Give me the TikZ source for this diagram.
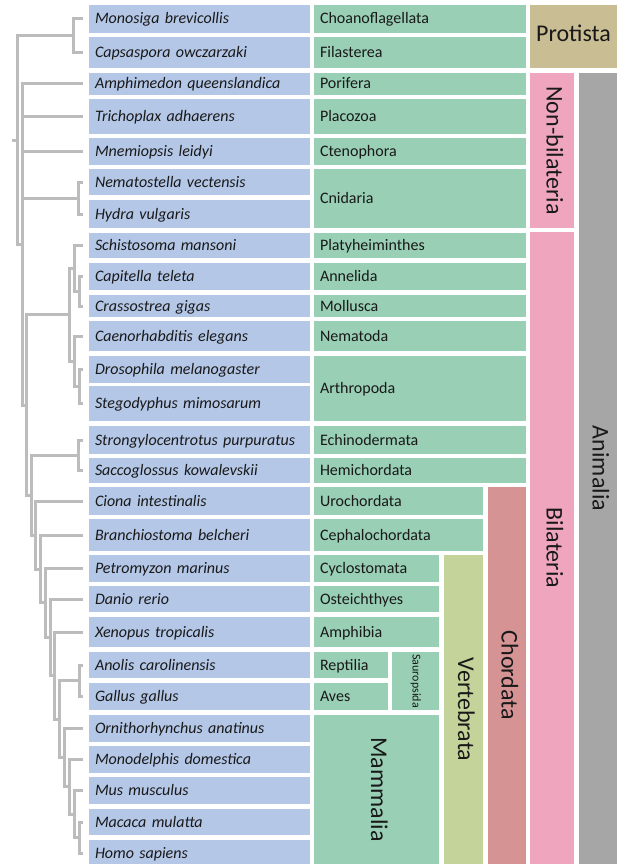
\documentclass[tikz,border=0pt]{standalone}
\usepackage{fontspec}
\setmainfont{Carlito}
\usetikzlibrary{positioning}
\definecolor{azulc}{RGB}{180,199,231}
\definecolor{verdec}{RGB}{152,207,181}
\definecolor{arena}{RGB}{201,189,148}
\definecolor{rosa}{RGB}{239,165,190}
\definecolor{grana}{RGB}{214,147,148}
\definecolor{oliva}{RGB}{195,211,153}
\definecolor{grism}{RGB}{166,166,166}
\definecolor{ramac}{RGB}{188,188,188}
\definecolor{tinta}{RGB}{25,25,25}
\tikzset{
  esp/.style={fill=azulc, anchor=west, inner xsep=6pt, inner ysep=0pt, outer xsep=6pt, outer ysep=0pt, text width=209pt, align=left, text height=13pt, text depth=3pt, font=\fontsize{16}{16}\selectfont\itshape, text=tinta},
  fil/.style={fill=verdec, anchor=west, inner xsep=6pt, inner ysep=0pt, outer sep=0pt, text width=200pt, align=left, text height=13pt, text depth=3pt, font=\fontsize{16}{16}\selectfont, text=tinta},
  grupo/.style={inner sep=0pt, outer sep=0pt, text height=16pt, text depth=5pt, font=\fontsize{24}{24}\selectfont, text=tinta},
  vert/.style={grupo, rotate=-90},
  rama/.style={draw=ramac, line width=3pt},
}
\begin{document}
\begin{tikzpicture}[x=1pt, y=-1pt]
  \useasboundingbox (0,0) rectangle (618,864);
  % species column
  \node[esp, minimum height=28pt] (s1) at (83,19) {Monosiga brevicollis};
  \node[esp, minimum height=31pt] (s2) at (83,52.5) {Capsaspora owczarzaki};
  \node[esp, minimum height=22pt] (s3) at (83,84) {Amphimedon queenslandica};
  \node[esp, minimum height=35pt] (s4) at (83,116.5) {Trichoplax adhaerens};
  \node[esp, minimum height=27pt] (s5) at (83,151.5) {Mnemiopsis leidyi};
  \node[esp, minimum height=26pt] (s6) at (83,182) {Nematostella vectensis};
  \node[esp, minimum height=28pt] (s7) at (83,214) {Hydra vulgaris};
  \node[esp, minimum height=25pt] (s8) at (83,245.5) {Schistosoma mansoni};
  \node[esp, minimum height=27pt] (s9) at (83,276.5) {Capitella teleta};
  \node[esp, minimum height=22pt] (s10) at (83,306) {Crassostrea gigas};
  \node[esp, minimum height=30pt] (s11) at (83,336) {Caenorhabditis elegans};
  \node[esp, minimum height=27pt] (s12) at (83,369.5) {Drosophila melanogaster};
  \node[esp, minimum height=35pt] (s13) at (83,403.5) {Stegodyphus mimosarum};
  \node[esp, minimum height=28pt] (s14) at (83,440) {Strongylocentrotus purpuratus};
  \node[esp, minimum height=25pt] (s15) at (83,470.5) {Saccoglossus kowalevskii};
  \node[esp, minimum height=28pt] (s16) at (83,501) {Ciona intestinalis};
  \node[esp, minimum height=32pt] (s17) at (83,535) {Branchiostoma belcheri};
  \node[esp, minimum height=27pt] (s18) at (83,568.5) {Petromyzon marinus};
  \node[esp, minimum height=26pt] (s19) at (83,599) {Danio rerio};
  \node[esp, minimum height=30pt] (s20) at (83,632) {Xenopus tropicalis};
  \node[esp, minimum height=26pt] (s21) at (83,665) {Anolis carolinensis};
  \node[esp, minimum height=27pt] (s22) at (83,696.5) {Gallus gallus};
  \node[esp, minimum height=27pt] (s23) at (83,728.5) {Ornithorhynchus anatinus};
  \node[esp, minimum height=27pt] (s24) at (83,759.5) {Monodelphis domestica};
  \node[esp, minimum height=27pt] (s25) at (83,790.5) {Mus musculus};
  \node[esp, minimum height=26pt] (s26) at (83,822) {Macaca mulatta};
  \node[esp, minimum height=26pt] (s27) at (83,853) {Homo sapiens};
  % phylum column
  \node[fil, minimum height=28pt] (f1) at (314,19) {Choanoflagellata};
  \node[fil, minimum height=31pt] (f2) at (314,52.5) {Filasterea};
  \node[fil, minimum height=22pt] (f3) at (314,84) {Porifera};
  \node[fil, minimum height=35pt] (f4) at (314,116.5) {Placozoa};
  \node[fil, minimum height=27pt] (f5) at (314,151.5) {Ctenophora};
  \node[fil, minimum height=59pt] (f6) at (314,198.5) {Cnidaria};
  \node[fil, minimum height=25pt] (f7) at (314,245.5) {Platyheiminthes};
  \node[fil, minimum height=27pt] (f8) at (314,276.5) {Annelida};
  \node[fil, minimum height=22pt] (f9) at (314,306) {Mollusca};
  \node[fil, minimum height=30pt] (f10) at (314,336) {Nematoda};
  \node[fil, minimum height=65pt] (f11) at (314,388.5) {Arthropoda};
  \node[fil, minimum height=28pt] (f12) at (314,440) {Echinodermata};
  \node[fil, minimum height=25pt] (f13) at (314,470.5) {Hemichordata};
  \node[fil, text width=157pt, minimum height=28pt] (f14) at (314,501) {Urochordata};
  \node[fil, text width=157pt, minimum height=32pt] (f15) at (314,535) {Cephalochordata};
  \node[fil, text width=113pt, minimum height=27pt] (f16) at (314,568.5) {Cyclostomata};
  \node[fil, text width=113pt, minimum height=26pt] (f17) at (314,599) {Osteichthyes};
  \node[fil, text width=113pt, minimum height=30pt] (f18) at (314,632) {Amphibia};
  \node[fil, text width=62pt, minimum height=26pt] (f19) at (314,665) {Reptilia};
  \node[fil, text width=62pt, minimum height=27pt] (f20) at (314,696.5) {Aves};
  \node[vert, fill=verdec, minimum width=58pt, minimum height=47pt, text height=9pt, text depth=3pt, font=\fontsize{12}{12}\selectfont] (saur) at (415.5,681) {Sauropsida};
  \node[vert, fill=verdec, minimum width=149pt, minimum height=125pt] (mamm) at (376.5,789.5) {Mammalia};
  % higher groups
  \node[vert, fill=oliva, minimum width=309pt, minimum height=39pt] (vertb) at (463.5,709.5) {Vertebrata};
  \node[vert, fill=grana, minimum width=377pt, minimum height=38pt] (chord) at (507,675.5) {Chordata};
  \node[grupo, fill=arena, minimum width=87pt, minimum height=63pt] (prot) at (573.5,36.5) {Protista};
  \node[vert, fill=rosa, minimum width=155pt, minimum height=44pt] (nobil) at (552,150.5) {Non-bilateria};
  \node[vert, fill=rosa, minimum width=632pt, minimum height=44pt] (bil) at (552,548) {Bilateria};
  \node[vert, fill=grism, minimum width=791pt, minimum height=38pt] (anim) at (598,468.5) {Animalia};
  % tree
  \coordinate (raiz) at (12,140);
  \coordinate (nRoot) at (17,140);
  \coordinate (nProt) at (73,35.75);
  \coordinate (nAnim) at (22,244.5);
  \coordinate (nCnid) at (78,198);
  \coordinate (nBila) at (26,405);
  \coordinate (nProto) at (69,314.8);
  \coordinate (nLoph) at (74,268.4);
  \coordinate (nMoll) at (79,291.25);
  \coordinate (nEcd) at (74,361.25);
  \coordinate (nArth) at (79,386.5);
  \coordinate (nDeut) at (31,495.1);
  \coordinate (nAmb) at (78,455.25);
  \coordinate (nChor) at (35,535);
  \coordinate (nOlf) at (40,569);
  \coordinate (nVert) at (45,602.9);
  \coordinate (nGnat) at (50,637.3);
  \coordinate (nTetr) at (54,675.6);
  \coordinate (nAmni) at (59,719.2);
  \coordinate (nSaur) at (79,680.75);
  \coordinate (nMamm) at (64,757.6);
  \coordinate (nTher) at (69,786.75);
  \coordinate (nEuth) at (74,814);
  \coordinate (nPrim) at (79,837.5);
  \draw[rama] (raiz) -- (nRoot) (nRoot) |- (nProt) (nRoot) |- (nAnim);
  \draw[rama] (nProt) |- (s1.west) (nProt) |- (s2.west);
  \draw[rama] (nAnim) |- (s3.west) (nAnim) |- (s4.west) (nAnim) |- (s5.west)
    (nAnim) |- (nCnid) (nAnim) |- (nBila);
  \draw[rama] (nCnid) |- (s6.west) (nCnid) |- (s7.west);
  \draw[rama] (nBila) |- (nProto) (nBila) |- (nDeut);
  \draw[rama] (nProto) |- (nLoph) (nProto) |- (nEcd);
  \draw[rama] (nLoph) |- (s8.west) (nLoph) |- (nMoll);
  \draw[rama] (nMoll) |- (s9.west) (nMoll) |- (s10.west);
  \draw[rama] (nEcd) |- (s11.west) (nEcd) |- (nArth);
  \draw[rama] (nArth) |- (s12.west) (nArth) |- (s13.west);
  \draw[rama] (nDeut) |- (nAmb) (nDeut) |- (nChor);
  \draw[rama] (nAmb) |- (s14.west) (nAmb) |- (s15.west);
  \draw[rama] (nChor) |- (s16.west) (nChor) |- (nOlf);
  \draw[rama] (nOlf) |- (s17.west) (nOlf) |- (nVert);
  \draw[rama] (nVert) |- (s18.west) (nVert) |- (nGnat);
  \draw[rama] (nGnat) |- (s19.west) (nGnat) |- (nTetr);
  \draw[rama] (nTetr) |- (s20.west) (nTetr) |- (nAmni);
  \draw[rama] (nAmni) |- (nSaur) (nAmni) |- (nMamm);
  \draw[rama] (nSaur) |- (s21.west) (nSaur) |- (s22.west);
  \draw[rama] (nMamm) |- (s23.west) (nMamm) |- (nTher);
  \draw[rama] (nTher) |- (s24.west) (nTher) |- (nEuth);
  \draw[rama] (nEuth) |- (s25.west) (nEuth) |- (nPrim);
  \draw[rama] (nPrim) |- (s26.west) (nPrim) |- (s27.west);
\end{tikzpicture}
\end{document}
